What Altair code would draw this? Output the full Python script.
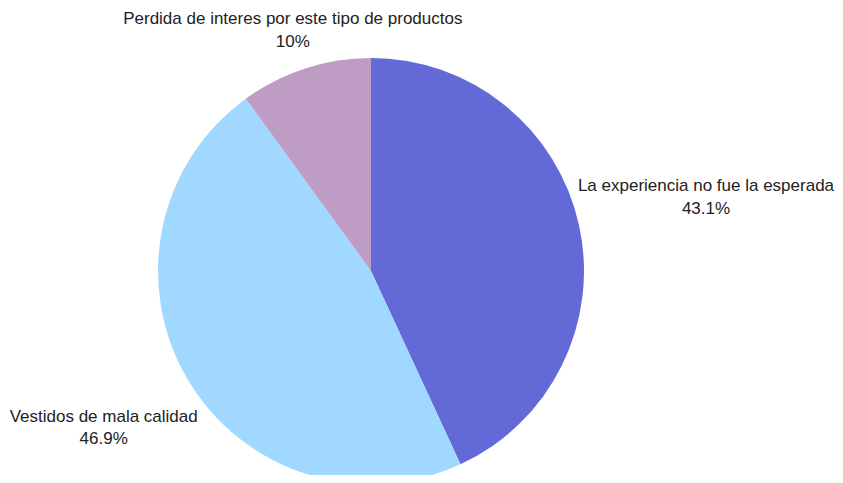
import altair as alt
import pandas as pd
import math

categories = ["La experiencia no fue la esperada", "Vestidos de mala calidad", "Perdida de interes por este tipo de productos"]
values = [43.1, 46.9, 10]
pct_labels = ["43.1%", "46.9%", "10%"]
colors = ["#6369D6", "#A0D8FF", "#BE9CC4"]

df = pd.DataFrame({
    "cat": categories,
    "value": values,
    "pct": pct_labels,
    "ord": list(range(len(categories))),
})

CX, CY, R = 363, 263, 213

theta_scale = alt.Scale(domain=[0, 100], range=[0, 2 * math.pi])

base = alt.Chart(df).transform_window(
    end="sum(value)", sort=[alt.SortField("ord", order="ascending")], frame=[None, 0]
).transform_calculate(
    start="datum.end - datum.value",
    mid="datum.end - datum.value / 2",
    label="[datum.cat, datum.pct]",
    lr="datum.cat == 'La experiencia no fue la esperada' ? 343 : (datum.cat == 'Vestidos de mala calidad' ? 310 : 253)",
)

arcs = base.mark_arc(outerRadius=R).encode(
    x=alt.value(CX),
    y=alt.value(CY),
    theta=alt.Theta("start:Q", scale=theta_scale),
    theta2=alt.Theta2("end:Q"),
    color=alt.Color("cat:N", scale=alt.Scale(domain=categories, range=colors), legend=None),
)

labels = base.mark_text(
    font="Liberation Sans", fontSize=17, color="#222222", align="center",
    baseline="middle", lineHeight=22.5, dy=-11,
).encode(
    x=alt.value(CX),
    y=alt.value(CY),
    theta=alt.Theta("mid:Q", scale=theta_scale),
    radius=alt.Radius("lr:Q", scale=None),
    text=alt.Text("label:N"),
)

chart = alt.layer(arcs, labels).properties(
    width=827, height=467, padding=0, autosize="none",
).configure_view(stroke=None)

chart.save("out.html", embed_options={"renderer": "svg", "actions": False})
